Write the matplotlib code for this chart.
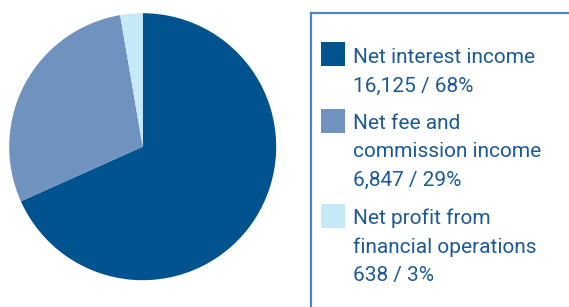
import matplotlib
matplotlib.use("Agg")
from matplotlib import pyplot as plt
from matplotlib.patches import Rectangle
from matplotlib.lines import Line2D

# income breakdown
labels = ["Net interest income", "Net fee and\ncommission income", "Net profit from\nfinancial operations"]
values = [16125, 6847, 638]
shares = ["68%", "29%", "3%"]
colors = ["#00538f", "#7092bf", "#c6e9f8"]

W, H = 569, 307
fig = plt.figure(figsize=(W / 100, H / 100), dpi=100)

def fx(px):
    return px / W

def fy(py):
    return 1 - py / H

# pie
cx, cy, r = 142.7, 146.7, 133.5
ax = fig.add_axes([fx(cx - r), fy(cy + r), 2 * r / W, 2 * r / H])
ax.pie(values, colors=colors, startangle=90, counterclock=False, radius=1,
       wedgeprops={"linewidth": 0})
ax.set_xlim(-1, 1)
ax.set_ylim(-1, 1)
ax.axis("off")

# legend frame (left and top only)
border = "#4f86c0"
fig.add_artist(Line2D([fx(311), fx(311)], [fy(12.7), fy(310)], color=border, lw=1.6, transform=fig.transFigure))
fig.add_artist(Line2D([fx(311), fx(572)], [fy(12.7), fy(12.7)], color=border, lw=1.6, transform=fig.transFigure))

txt_color = "#1c5a96"
font = "Roboto"
line_h = 28.7
sw_tops = [42, 109, 204]
first_base = [63.3, 128.7, 224]
for i in range(len(values)):
    fig.add_artist(Rectangle((fx(321), fy(sw_tops[i] + 24)), 24 / W, 24 / H,
                             color=colors[i], transform=fig.transFigure, lw=0))
    lines = labels[i].split("\n") + [f"{values[i]:,} / {shares[i]}"]
    for j, s in enumerate(lines):
        fig.text(fx(353.3), fy(first_base[i] + j * line_h), s, color=txt_color,
                 fontsize=15, family=font, va="baseline", ha="left")

fig.savefig("out.png", dpi=100)
